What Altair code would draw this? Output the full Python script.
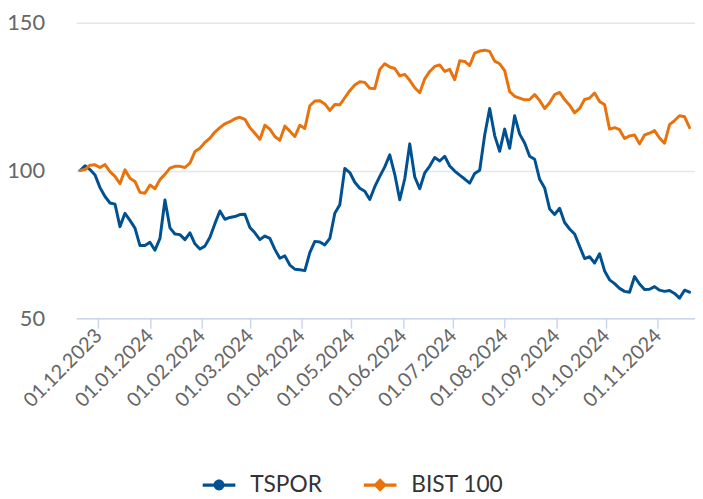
import altair as alt
import pandas as pd

# ---- data ----
start_date = "2023-11-20"
step_days = 3

tspor = [
    100, 101.6, 100.3, 98.5, 94.2, 91.2, 89, 88.6, 81, 85.5,
    83.1, 80.5, 74.6, 74.6, 75.7, 73, 77, 90, 80.6, 78.5,
    78.3, 76.6, 78.9, 75.2, 73.4, 74.4, 77.4, 82, 86.3, 83.5,
    84.1, 84.4, 85.1, 85.2, 80.7, 78.9, 76.6, 77.8, 77, 73.3,
    70.3, 71.1, 68, 66.6, 66.4, 66.1, 72.2, 76, 75.8, 74.8,
    77, 85.5, 88.4, 100.7, 99.3, 96, 94, 93, 90.2, 94.5,
    98, 101.2, 105.3, 98.7, 90.1, 97.2, 109, 97.8, 93.8, 99.2,
    101.5, 104.4, 103.2, 104.8, 101.5, 99.8, 98.4, 97.1, 95.7, 99,
    100.1, 112, 121, 111.8, 106.5, 114, 107.5, 118.5, 112.3, 109.3,
    104.8, 103.8, 97, 94.1, 87, 85.1, 87.2, 82.4, 80.2, 78.5,
    74.3, 70.2, 70.8, 68.7, 71.8, 66, 63, 61.7, 60.1, 59.1,
    58.8, 64.1, 61.6, 59.7, 59.8, 60.7, 59.5, 59.1, 59.4, 58.4,
    56.8, 59.5, 58.8,
]

bist100 = [
    100, 100.3, 101.8, 101.9, 101, 102, 99.6, 98, 95.5, 100.2,
    97.4, 96.3, 92.6, 92.3, 95.1, 93.8, 96.9, 98.7, 100.8, 101.4,
    101.4, 101, 102.5, 106.4, 107.5, 109.5, 110.9, 113, 114.5, 115.8,
    116.5, 117.5, 118, 117.3, 114.5, 112.6, 110.5, 115.3, 114, 111.5,
    110.2, 115, 113.3, 111.5, 115.3, 114.2, 121.9, 123.5, 123.6, 122.5,
    120.3, 122.3, 122.2, 124.6, 127, 128.9, 130, 129.8, 127.8, 127.7,
    134.2, 136.1, 135, 134.5, 132, 132.5, 130.5, 128, 126.3, 131,
    133.5, 135.2, 135.7, 133.5, 134.2, 130.7, 137.1, 136.9, 135.5, 139.7,
    140.4, 140.7, 140.3, 137, 136.1, 133.8, 126.7, 125.1, 124.5, 123.9,
    124, 125.7, 123.7, 121, 122.9, 125.7, 126.4, 124, 122.1, 119.5,
    121, 124, 124.5, 126.2, 123.3, 122.3, 114, 114.5, 113.8, 110.8,
    111.7, 112, 109, 112, 112.6, 113.5, 111, 109.2, 115.5, 116.9,
    118.5, 118.2, 114.5,
]

series_names = ["TSPOR", "BIST 100"]
series_colors = ["#005192", "#e8720c"]

tick_months = [(2023, 12)] + [(2024, m) for m in range(1, 12)]
y_ticks = [50, 100, 150]

# ---- build table ----
dates = pd.date_range(start_date, periods=len(tspor), freq=f"{step_days}D")
df = pd.concat(
    [
        pd.DataFrame({"date": dates, "value": tspor, "series": series_names[0]}),
        pd.DataFrame({"date": dates, "value": bist100, "series": series_names[1]}),
    ],
    ignore_index=True,
)

FONT = "Lato"

circle_sym = ("M-2.75,-0.27 L2.75,-0.27 L2.75,0.27 L-2.75,0.27 Z "
              "M0.92,0 A0.92,0.92 0 1,1 -0.92,0 A0.92,0.92 0 1,1 0.92,0 Z")
diamond_sym = ("M-2.75,-0.27 L2.75,-0.27 L2.75,0.27 L-2.75,0.27 Z "
               "M0,-1.15 L1.15,0 L0,1.15 L-1.15,0 Z")

color_scale = alt.Scale(domain=series_names, range=series_colors)
shape_scale = alt.Scale(domain=series_names, range=[circle_sym, diamond_sym])

x_enc = alt.X(
    "date:T",
    scale=alt.Scale(
        domain=[
            alt.DateTime(year=2023, month=11, date=17, hours=17),
            alt.DateTime(year=2024, month=11, date=23, hours=7),
        ]
    ),
    axis=alt.Axis(
        values=[alt.DateTime(year=y, month=m, date=1) for y, m in tick_months],
        format="%d.%m.%Y",
        labelAngle=315,
        labelAlign="right",
        labelBaseline="middle",
        labelFont=FONT,
        labelFontSize=20,
        labelColor="#666666",
        labelPadding=4,
        labelOverlap=False,
        tickSize=10,
        tickColor="#ccd6eb",
        tickWidth=1.5,
        domainColor="#ccd6eb",
        domainWidth=1.5,
        grid=False,
        title=None,
        zindex=1,
    ),
)

y_enc = alt.Y(
    "value:Q",
    scale=alt.Scale(domain=[50, 150], nice=False, zero=False),
    axis=alt.Axis(
        values=y_ticks,
        grid=True,
        gridColor="#e6e6e6",
        gridWidth=1.5,
        domain=False,
        ticks=False,
        labelFont=FONT,
        labelFontSize=22,
        labelColor="#666666",
        labelPadding=32,
        title=None,
    ),
)

leg = alt.Legend(title=None)

lines = alt.Chart(df).mark_line(strokeWidth=3, strokeJoin="round", strokeCap="round").encode(
    x=x_enc,
    y=y_enc,
    color=alt.Color("series:N", scale=color_scale, legend=leg),
    detail="series:N",
)

legend_pts = (
    alt.Chart(df)
    .transform_filter("datum.value < 0")
    .mark_point(filled=True, opacity=1)
    .encode(
        x="date:T",
        y="value:Q",
        color=alt.Color("series:N", scale=color_scale, legend=leg),
        shape=alt.Shape("series:N", scale=shape_scale, legend=leg),
    )
)

chart = (
    alt.layer(legend_pts, lines)
    .properties(
        width=626,
        height=299,
        padding={"left": 69, "top": 12, "right": 0, "bottom": 180},
        autosize=alt.AutoSizeParams(type="none"),
    )
    .configure_view(stroke=None)
    .configure_legend(
        orient="none",
        legendX=133,
        legendY=456,
        direction="horizontal",
        labelFont=FONT,
        labelFontSize=23,
        labelColor="#333333",
        symbolSize=144,
        symbolStrokeWidth=0,
        symbolOpacity=1,
        labelOffset=20,
        columnPadding=42,
    )
)

chart.save("out.html", embed_options={"renderer": "svg", "actions": False})
